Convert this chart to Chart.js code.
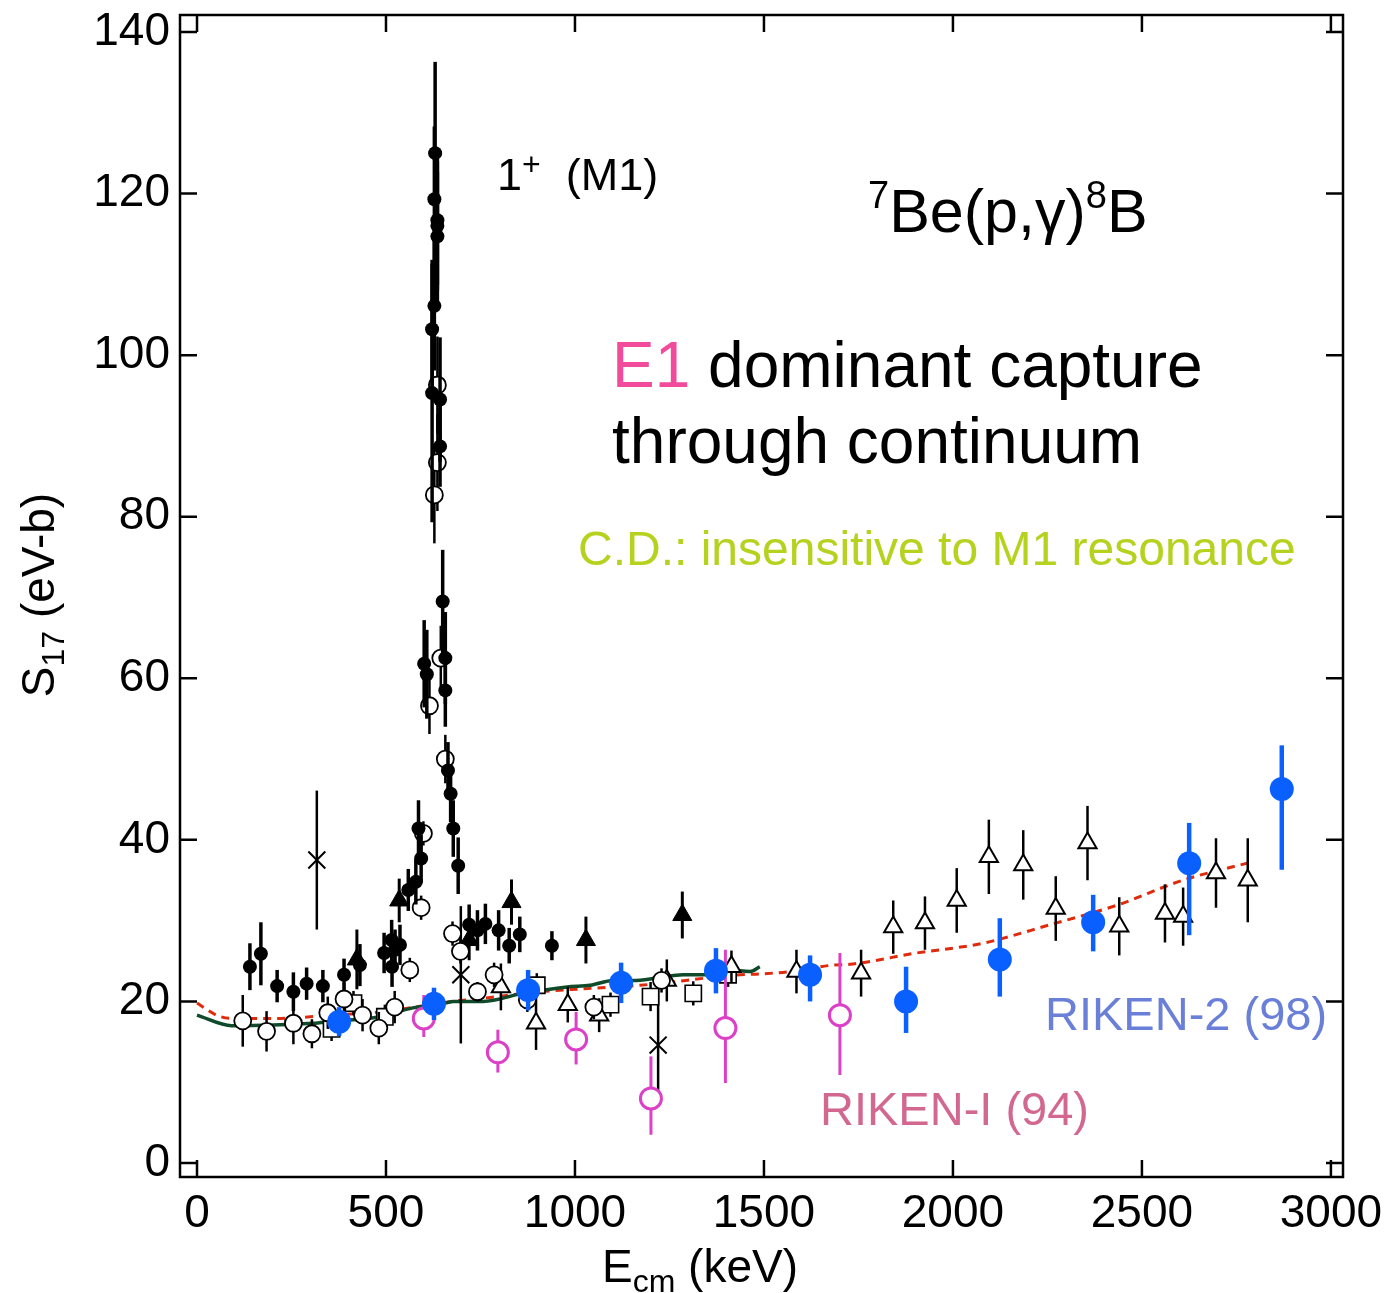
<!DOCTYPE html>
<html>
<head>
<meta charset="utf-8">
<script src="https://cdn.jsdelivr.net/npm/chart.js@4.4.0/dist/chart.umd.min.js"></script>
<style>
  html, body { margin: 0; padding: 0; background: #fff; }
</style>
</head>
<body>
<canvas id="s17Chart" width="1389" height="1293"></canvas>
<script>
const FONT = "'Liberation Sans', Arial, Helvetica, sans-serif";

// axis ticks
const xTicks = [0, 500, 1000, 1500, 2000, 2500, 3000];
const yTicks = [0, 20, 40, 60, 80, 100, 120, 140];

// black filled circles
const filledE = [140, 169, 212, 255, 290, 333, 389, 431, 495, 515, 516, 524, 537, 559, 579, 586, 593, 601, 608, 622,
  622, 628, 628, 630, 636, 636, 636, 643, 643, 650, 657, 657, 664, 671, 678, 691, 720, 742, 763, 798, 826, 854, 939];
const filledS = [24.3, 25.9, 21.9, 21.2, 22.2, 21.9, 23.3, 24.5, 26.0, 27.6, 24.3, 26.4, 27.0, 33.8, 34.8, 41.4, 37.7, 61.8, 60.5, 95.3,
  103.2, 106.1, 119.3, 125.0, 116.7, 116.0, 114.7, 94.5, 88.7, 69.5, 62.5, 58.5, 48.6, 45.7, 41.4, 36.8, 29.5, 28.8, 29.6, 28.8, 26.9, 28.3, 26.9];
const filledErr = [2.9, 3.9, 2.0, 2.4, 2.0, 2.0, 2.0, 2.6, 2.5, 2.5, 2.5, 2.5, 2.5, 2.6, 2.8, 3.5, 3.0, 5.4, 5.5, 16,
  8.6, 8, 9, 11.3, 8, 8, 8, 7.7, 5, 6.4, 5.7, 4.5, 3.5, 3.5, 3.5, 3.5, 2.5, 2.5, 2.5, 2.5, 2.2, 2.2, 1.8];

// black open circles
const openE = [121, 184, 255, 304, 346, 389, 438, 481, 523, 563, 593, 599, 615, 628, 636, 636, 645, 657, 676, 697, 742, 786, 874, 1050, 1229];
const openS = [17.6, 16.3, 17.3, 16.0, 18.6, 20.3, 18.3, 16.7, 19.3, 23.9, 31.6, 40.8, 56.6, 82.7, 86.7, 96.3, 62.5, 50.0, 28.4, 26.2, 21.2, 23.3, 20.2, 19.3, 22.6];
const openErr = [3.2, 2.5, 2.6, 1.8, 2.0, 2.0, 2.0, 2.0, 2.0, 1.5, 1.5, 1.5, 3.5, 6, 6, 6, 4, 3, 1.5, 1.5, 1.2, 1.5, 1.5, 1.5, 1.5];

// filled triangles
const triFillE = [423, 535, 720, 832, 1029, 1284];
const triFillS = [25.2, 32.5, 27.6, 32.3, 27.6, 30.7];
const triFillErr = [3.7, 2.7, 2.5, 2.8, 2.9, 2.9];

// open triangles
const triOpenE = [804, 897, 981, 1064, 1243, 1414, 1586, 1757, 1842, 1926, 2010, 2095, 2186, 2272, 2356, 2440, 2561, 2609, 2696, 2780];
const triOpenS = [21.8, 17.3, 19.6, 18.3, 22.6, 24.3, 23.7, 23.5, 29.2, 29.7, 32.5, 37.9, 36.9, 31.5, 39.6, 29.3, 30.9, 30.5, 35.9, 35.0];
const triOpenErr = [2.9, 3.3, 2.2, 2.1, 2.6, 2.0, 2.7, 2.9, 3.3, 3.3, 4.0, 4.6, 4.3, 4.0, 4.6, 3.6, 3.6, 3.6, 4.3, 5.2];

// open squares
const squareE = [356, 414, 497, 899, 1094, 1200, 1313, 1405];
const squareS = [16.6, 19.8, 18.1, 22.0, 19.6, 20.6, 21.0, 23.3];
const squareErr = [1.5, 1.5, 1.5, 1.5, 1.5, 1.8, 1.5, 1.5];

// crosses
const crossE = [317, 698, 1220];
const crossS = [37.5, 23.3, 14.6];
const crossErr = [8.6, 8.5, 7.5];

// RIKEN-2 (98)
const riken2E = [376, 627, 876, 1122, 1373, 1622, 1876, 2124, 2371, 2625, 2870];
const riken2S = [17.5, 19.7, 21.4, 22.3, 23.8, 23.3, 20.0, 25.2, 29.8, 37.1, 46.3];
const riken2Lo = [1.8, 2.0, 2.5, 2.5, 2.8, 3.3, 3.9, 4.6, 3.6, 8.9, 10.0];
const riken2Hi = [1.8, 2.0, 2.5, 2.5, 2.8, 2.4, 4.3, 5.1, 3.4, 5.0, 5.4];

// RIKEN-I (94)
const riken1E = [600, 796, 1003, 1201, 1398, 1701];
const riken1S = [17.9, 13.7, 15.3, 8.0, 16.7, 18.3];
const riken1Lo = [2.3, 2.5, 3.1, 4.5, 6.8, 7.4];
const riken1Hi = [2.9, 2.8, 3.4, 5.2, 9.7, 7.7];

// calculations
const greenE = [0, 92, 307, 352, 484, 571, 643, 677, 757, 862, 979, 1040, 1101, 1153, 1217, 1286, 1349, 1410, 1463, 1489];
const greenS = [18.3, 17.0, 17.3, 17.5, 18.1, 19.2, 19.6, 20.0, 20.0, 21.0, 21.8, 22.0, 22.6, 22.6, 22.9, 23.3, 23.3, 23.9, 23.7, 24.3];
const redE = [0, 52, 92, 220, 352, 484, 590, 643, 677, 757, 907, 1172, 1437, 1489, 1569, 1683, 1728, 1904, 2079, 2257, 2433, 2608, 2794];
const redS = [19.8, 18.3, 17.9, 17.9, 18.3, 18.7, 19.4, 19.8, 20.0, 20.4, 21.2, 22.0, 23.3, 23.4, 23.7, 24.5, 24.6, 26.0, 27.2, 29.5, 31.9, 35.0, 37.3];

const pts = (xs, ys) => xs.map((x, i) => ({ x: x, y: ys[i] }));

function marker(label, xs, ys, lo, hi, style) {
  return Object.assign({
    label: label,
    data: pts(xs, ys),
    errLo: lo,
    errHi: hi,
  }, style);
}

const errorBars = {
  id: "errorBars",
  beforeDatasetDraw(chart, args) {
    const ds = chart.data.datasets[args.index];
    if (!ds.errLo) return;
    const { ctx } = chart;
    const xs = chart.scales.x, ys = chart.scales.y;
    ctx.save();
    ctx.strokeStyle = ds.barColor;
    ctx.lineWidth = ds.barWidth;
    ds.data.forEach((p, i) => {
      const px = xs.getPixelForValue(p.x);
      ctx.beginPath();
      ctx.moveTo(px, ys.getPixelForValue(p.y - ds.errLo[i]));
      ctx.lineTo(px, ys.getPixelForValue(p.y + ds.errHi[i]));
      ctx.stroke();
    });
    ctx.restore();
  }
};

function drawRuns(ctx, x, y, runs) {
  let cx = x;
  runs.forEach(r => {
    ctx.font = r[1] + "px " + FONT;
    ctx.fillStyle = r[2] || "#000";
    ctx.fillText(r[0], cx, y + (r[3] || 0));
    cx += ctx.measureText(r[0]).width;
  });
}

function runsWidth(ctx, runs) {
  let w = 0;
  runs.forEach(r => { ctx.font = r[1] + "px " + FONT; w += ctx.measureText(r[0]).width; });
  return w;
}

const frameAndText = {
  id: "frameAndText",
  afterDraw(chart) {
    const { ctx, chartArea: a, scales: { x, y } } = chart;
    ctx.save();
    ctx.strokeStyle = "#000";
    ctx.lineWidth = 2.5;
    ctx.strokeRect(a.left, a.top, a.right - a.left, a.bottom - a.top);
    const len = 17;
    ctx.beginPath();
    x.ticks.forEach(t => {
      const p = x.getPixelForValue(t.value);
      ctx.moveTo(p, a.bottom); ctx.lineTo(p, a.bottom - len);
      ctx.moveTo(p, a.top); ctx.lineTo(p, a.top + len);
    });
    y.ticks.forEach(t => {
      const p = y.getPixelForValue(t.value);
      ctx.moveTo(a.left, p); ctx.lineTo(a.left + len, p);
      ctx.moveTo(a.right, p); ctx.lineTo(a.right - len, p);
    });
    ctx.stroke();

    ctx.textBaseline = "alphabetic";
    ctx.textAlign = "left";
    // annotations
    drawRuns(ctx, 497, 190, [["1", 45], ["+", 32, "#000", -15], ["  (M1)", 45]]);
    drawRuns(ctx, 868, 232, [["7", 38, "#000", -24], ["Be(p,\u03b3)", 61], ["8", 38, "#000", -24], ["B", 61]]);
    drawRuns(ctx, 612, 387, [["E1", 64, "#f24b9b"], [" dominant capture", 64]]);
    drawRuns(ctx, 612, 463, [["through continuum", 64]]);
    drawRuns(ctx, 578, 565, [["C.D.: insensitive to M1 resonance", 48, "#b5d21f"]]);
    drawRuns(ctx, 1045, 1030, [["RIKEN-2 (98)", 47, "#6a7fd8"]]);
    drawRuns(ctx, 820, 1125, [["RIKEN-I (94)", 47, "#d2688f"]]);

    // x axis title
    const xt = [["E", 46], ["cm", 32, "#000", 10], [" (keV)", 46]];
    drawRuns(ctx, 700 - runsWidth(ctx, xt) / 2, 1282, xt);
    // y axis title
    const yt = [["S", 46], ["17", 32, "#000", 10], [" (eV-b)", 46]];
    ctx.translate(54, 595);
    ctx.rotate(-Math.PI / 2);
    drawRuns(ctx, -runsWidth(ctx, yt) / 2, 0, yt);
    ctx.restore();
  }
};

// keep the plot frame where the reference has it
function fixPadding(s) {
  s.paddingTop = 0;
  s.paddingBottom = 0;
  s.paddingLeft = 0;
  s.paddingRight = 0;
}

const ctx = document.getElementById("s17Chart").getContext("2d");
const s17Chart = new Chart(ctx, {
  type: "scatter",
  data: {
    datasets: [
      marker("RIKEN-2 (98)", riken2E, riken2S, riken2Lo, riken2Hi, {
        order: 1, pointStyle: "circle", pointRadius: 12, backgroundColor: "#0a60ff",
        borderColor: "#0a60ff", borderWidth: 0, barColor: "#0a60ff", barWidth: 4.5,
      }),
      marker("RIKEN-I (94)", riken1E, riken1S, riken1Lo, riken1Hi, {
        order: 2, pointStyle: "circle", pointRadius: 10.5, backgroundColor: "#fff",
        borderColor: "#dc40c6", borderWidth: 3, barColor: "#dc40c6", barWidth: 3,
      }),
      marker("filled circles", filledE, filledS, filledErr, filledErr, {
        order: 3, pointStyle: "circle", pointRadius: 7, backgroundColor: "#000",
        borderColor: "#000", borderWidth: 0, barColor: "#000", barWidth: 3.5,
      }),
      marker("open circles", openE, openS, openErr, openErr, {
        order: 4, pointStyle: "circle", pointRadius: 8.5, backgroundColor: "#fff",
        borderColor: "#000", borderWidth: 1.8, barColor: "#000", barWidth: 2.5,
      }),
      marker("filled triangles", triFillE, triFillS, triFillErr, triFillErr, {
        order: 5, pointStyle: "triangle", pointRadius: 11, backgroundColor: "#000",
        borderColor: "#000", borderWidth: 1, barColor: "#000", barWidth: 3,
      }),
      marker("open triangles", triOpenE, triOpenS, triOpenErr, triOpenErr, {
        order: 6, pointStyle: "triangle", pointRadius: 10.5, backgroundColor: "#fff",
        borderColor: "#000", borderWidth: 2, barColor: "#000", barWidth: 2.5,
      }),
      marker("open squares", squareE, squareS, squareErr, squareErr, {
        order: 7, pointStyle: "rect", pointRadius: 11.5, backgroundColor: "#fff",
        borderColor: "#000", borderWidth: 1.6, barColor: "#000", barWidth: 2.5,
      }),
      marker("crosses", crossE, crossS, crossErr, crossErr, {
        order: 8, pointStyle: "crossRot", pointRadius: 12, backgroundColor: "#000",
        borderColor: "#000", borderWidth: 2, barColor: "#000", barWidth: 2.5,
      }),
      {
        label: "E1 calc (solid)",
        data: pts(greenE, greenS),
        order: 9, showLine: true, pointRadius: 0, borderColor: "#0f4a2a", borderWidth: 3.5,
        cubicInterpolationMode: "monotone", fill: false,
      },
      {
        label: "E1 calc (dashed)",
        data: pts(redE, redS),
        order: 10, showLine: true, pointRadius: 0, borderColor: "#e02a0c", borderWidth: 3,
        borderDash: [8, 6], cubicInterpolationMode: "monotone", fill: false,
      },
    ],
  },
  options: {
    responsive: false,
    animation: false,
    events: [],
    layout: { padding: { top: 15, right: 46, left: 0, bottom: 0 } },
    plugins: {
      legend: { display: false },
      tooltip: { enabled: false },
    },
    scales: {
      x: {
        type: "linear",
        min: -45,
        max: 3032,
        afterBuildTicks: (s) => { s.ticks = xTicks.map(v => ({ value: v })); },
        afterFit: (s) => { s.height = 116; fixPadding(s); },
        grid: { display: false, drawTicks: false },
        border: { display: false },
        ticks: {
          color: "#000", font: { family: FONT, size: 46 }, padding: 10, maxRotation: 0, autoSkip: false,
          callback: (v) => String(v),
        },
      },
      y: {
        type: "linear",
        min: -1.73,
        max: 142.1,
        afterBuildTicks: (s) => { s.ticks = yTicks.map(v => ({ value: v })); },
        afterFit: (s) => { s.width = 180; fixPadding(s); },
        grid: { display: false, drawTicks: false },
        border: { display: false },
        ticks: {
          color: "#000", font: { family: FONT, size: 46 }, padding: 10, autoSkip: false,
          callback: (v) => String(v),
        },
      },
    },
  },
  plugins: [errorBars, frameAndText],
});
</script>
</body>
</html>
